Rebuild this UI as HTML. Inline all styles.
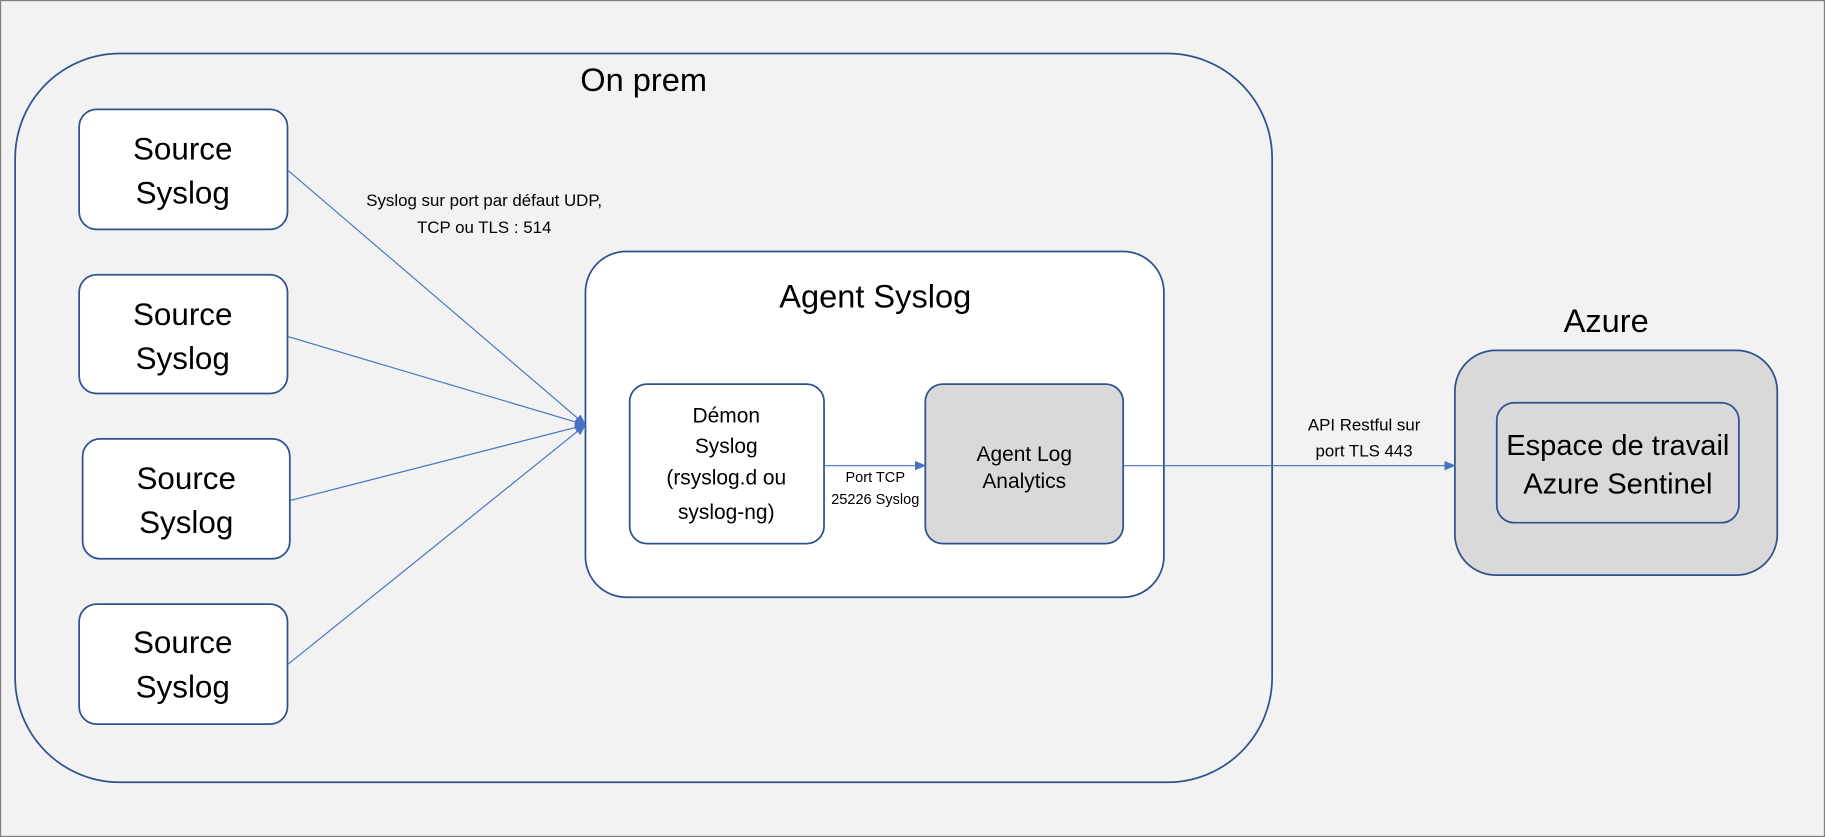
<!DOCTYPE html>
<html><head><meta charset="utf-8"><style>
html,body{margin:0;padding:0;background:#f2f2f2;}
svg{display:block;}
text{font-family:"Liberation Sans",sans-serif;fill:#000;text-anchor:middle;}
</style></head><body>
<svg width="1825" height="837" viewBox="0 0 1568 719" preserveAspectRatio="none" xmlns="http://www.w3.org/2000/svg">
<defs><marker id="a" markerWidth="10" markerHeight="10" refX="9" refY="5" orient="auto" markerUnits="userSpaceOnUse"><path d="M0,1 L10,5 L0,9 z" fill="#4472c4"/></marker></defs>
<rect x="0.5" y="0.5" width="1567" height="718" fill="#f2f2f2" stroke="#7f7f7f"/>
<rect x="13" y="46" width="1080" height="626" rx="90" fill="#f2f2f2" stroke="#2f528f" stroke-width="1.5"/>
<text x="553" y="78" font-size="28">On prem</text>
<g fill="#fff" stroke="#2f528f" stroke-width="1.5">
<rect x="68" y="94" width="179" height="103" rx="15"/>
<rect x="68" y="236" width="179" height="102" rx="15"/>
<rect x="71" y="377" width="178" height="103" rx="15"/>
<rect x="68" y="519" width="179" height="103" rx="15"/>
<rect x="503" y="216" width="497" height="297" rx="35"/>
<rect x="541" y="330" width="167" height="137" rx="15"/>
<rect x="795" y="330" width="170" height="137" rx="15" fill="#d9d9d9"/>
<rect x="1250" y="301" width="277" height="193" rx="35" fill="#d9d9d9"/>
<rect x="1286" y="346" width="208" height="103" rx="15" fill="#d9d9d9"/>
</g>
<g font-size="27">
<text x="157" y="137">Source</text><text x="157" y="175">Syslog</text>
<text x="157" y="279">Source</text><text x="157" y="317">Syslog</text>
<text x="160" y="420">Source</text><text x="160" y="458">Syslog</text>
<text x="157" y="561">Source</text><text x="157" y="599">Syslog</text>
</g>
<text x="752" y="264" font-size="28">Agent Syslog</text>
<g font-size="18">
<text x="624" y="363">Démon</text><text x="624" y="389">Syslog</text>
<text x="624" y="416">(rsyslog.d ou</text><text x="624" y="446">syslog-ng)</text>
<text x="880" y="396">Agent Log</text><text x="880" y="419">Analytics</text>
</g>
<g stroke="#4472c4" stroke-width="1" fill="none">
<line x1="247" y1="146" x2="503" y2="365" marker-end="url(#a)"/>
<line x1="247" y1="289" x2="503" y2="365" marker-end="url(#a)"/>
<line x1="249" y1="430" x2="503" y2="365" marker-end="url(#a)"/>
<line x1="247" y1="571" x2="503" y2="365" marker-end="url(#a)"/>
<line x1="708" y1="400" x2="795" y2="400" marker-end="url(#a)"/>
<line x1="965" y1="400" x2="1250" y2="400" marker-end="url(#a)"/>
</g>
<g font-size="14.5">
<text x="416" y="177">Syslog sur port par défaut UDP,</text>
<text x="416" y="200">TCP ou TLS : 514</text>
<text x="1172" y="370">API Restful sur</text>
<text x="1172" y="392">port TLS 443</text>
</g>
<g font-size="12.5">
<text x="752" y="414">Port TCP</text><text x="752" y="433">25226 Syslog</text>
</g>
<text x="1380" y="285" font-size="28">Azure</text>
<g font-size="25">
<text x="1390" y="391">Espace de travail</text>
<text x="1390" y="424">Azure Sentinel</text>
</g>
</svg>
</body></html>
